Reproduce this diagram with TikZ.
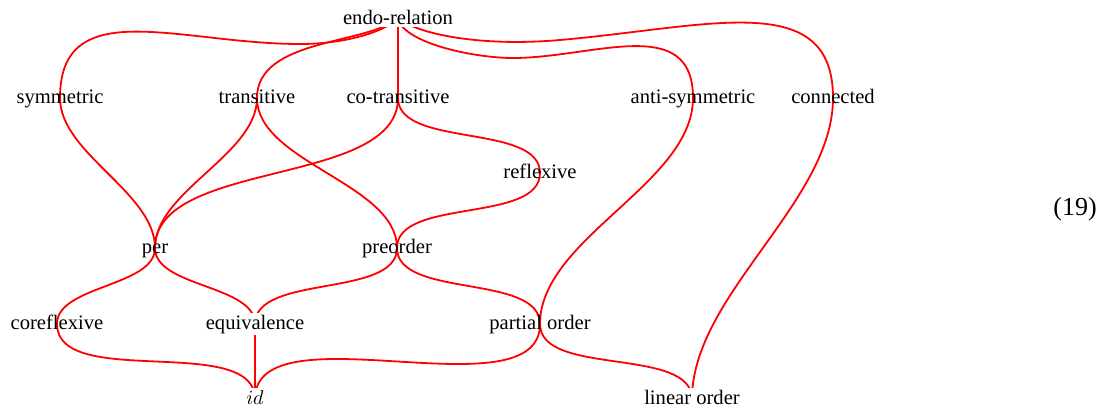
\documentclass[tikz,border=0pt]{standalone}
\usepackage{fontspec}
\setmainfont{Liberation Serif}
\usetikzlibrary{backgrounds}
\begin{document}
\begin{tikzpicture}[x=0.5pt,y=0.5pt,
  lbl/.style={font=\fontsize{10.3}{12}\selectfont, inner sep=0pt,
              text height=7.2pt, text depth=2.2pt},
  cut/.style={lbl, fill=white, inner xsep=1pt, inner ysep=1pt},
  wire/.style={draw=red, line width=0.9pt},
  rel/.style={wire, out=-90, in=90, looseness=0.8}]
\useasboundingbox (0,0) rectangle (1111,-407);

% the relations
\node[cut, text depth=0.5pt, inner ysep=0.6pt] (endo) at (398,-18) {endo-relation};
\node[lbl] (sym)   at (60,-98)  {symmetric};
\node[lbl] (trans) at (257,-98) {transitive};
\node[lbl] (cotr)  at (398,-98) {co-transitive};
\node[lbl] (anti)  at (693,-98) {anti-symmetric};
\node[lbl] (conn)  at (833,-98) {connected};
\node[lbl] (refl)  at (540,-173) {reflexive};
\node[lbl] (per)   at (155,-248) {per};
\node[lbl] (pre)   at (397,-248) {preorder};
\node[lbl] (coref) at (57,-324)  {coreflexive};
\node[cut] (equiv) at (255,-324) {equivalence};
\node[lbl] (po)    at (540,-324) {partial order};
\node[cut] (id)    at (255,-399) {$id$};
\node[cut] (lin)   at (692,-399) {linear order};
\node[font=\fontsize{13}{15}\selectfont, inner sep=0pt] (eqno) at (1075,-209) {(19)};

% the inclusions, behind the labels
\begin{pgfonlayer}{background}
\draw[wire] (endo.center)
  to[out=-130, in=0, out distance=7.5pt, in distance=25pt] (300,-44)
  to[out=180, in=90, out distance=60pt, in distance=52.5pt] (sym.center);
\draw[wire] (endo.center)
  to[out=-138, in=90, out distance=20pt, in distance=30pt] (trans.center);
\draw[rel] (endo.center) to (cotr.center);
\draw[wire] (endo.center)
  to[out=-80, in=180, out distance=12.5pt, in distance=20pt] (513,-58)
  to[out=0, in=90, out distance=40pt, in distance=42.5pt] (anti.center);
\draw[wire] (endo.center)
  to[out=-40, in=185, out distance=12.5pt, in distance=40pt] (560,-40)
  to[out=5, in=90, out distance=75pt, in distance=55pt] (conn.center);
\draw[rel] (sym.center) to (per.center);
\draw[rel] (trans.center) to (per.center);
\draw[rel] (trans.center) to (pre.center);
\draw[rel] (cotr.center) to (per.center);
\draw[rel] (cotr.center) to (refl.center);
\draw[rel] (refl.center) to (pre.center);
\draw[rel] (per.center) to (coref.center);
\draw[rel] (per.center) to (equiv.center);
\draw[rel] (pre.center) to (equiv.center);
\draw[rel] (pre.center) to (po.center);
\draw[rel] (anti.center) to (po.center);
\draw[rel] (conn.center) to (lin.center);
\draw[rel] (coref.center) to (id.center);
\draw[rel] (equiv.center) to (id.center);
\draw[rel] (po.center) to (id.center);
\draw[rel] (po.center) to (lin.center);
\end{pgfonlayer}
\end{tikzpicture}
\end{document}
